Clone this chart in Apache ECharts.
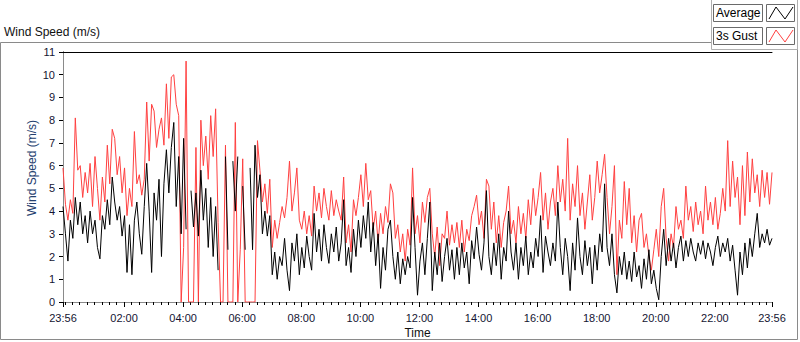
<!DOCTYPE html>
<html>
<head>
<meta charset="utf-8">
<script src="https://cdn.jsdelivr.net/npm/echarts@6/dist/echarts.min.js"></script>
<style>
    html, body { margin: 0; padding: 0; background: #fff; }
    #chart { width: 800px; height: 342px; }
</style>
</head>
<body>
<div id="chart"></div>
<script>
// one sample every 5 minutes, counted from 23:56
const stepMinutes = 5

const gust = [
    5.9, 4.3, 3.6, 4.5, 3.9, 8.1, 5.8, 6.0, 4.6, 5.7,
    4.8, 6.1, 4.2, 6.4, 5.0, 3.6, 5.5, 4.4, 6.9, 5.2,
    7.6, 7.2, 5.6, 6.4, 4.8, 5.9, 3.8, 5.0, 4.2, 7.5,
    5.2, 5.6, 4.7, 5.4, 8.8, 6.2, 8.7, 8.4, 6.8, 7.6,
    8.1, 6.9, 9.6, 7.2, 9.9, 10.0, 8.7, 8.2, 0, 2.4,
    10.6, 0, 0, 0, 6.8, 0, 8.0, 6.0, 7.3, 5.4,
    8.2, 6.4, 8.5, 3.5, 0, 0, 6.9, 0, 0, 0,
    7.9, 0, 2.3, 6.3, 0, 0, 0, 0, 0, 7.1,
    5.8, 4.4, 5.2, 3.9, 5.4, 2.4, 3.6, 2.8, 3.5, 4.2,
    3.7, 4.6, 6.2, 4.0, 4.8, 5.9, 3.6, 3.2, 4.0, 3.0,
    3.8, 2.9, 5.1, 4.0, 4.8, 3.7, 5.0, 4.2, 3.6, 4.9,
    3.8, 4.5, 4.0, 3.6, 5.5, 2.6, 3.4, 2.2, 4.5, 3.8,
    4.6, 5.6, 4.2, 6.1, 4.5, 4.9, 3.2, 4.0, 2.6, 3.9,
    3.0, 4.2, 3.5, 5.2, 4.8, 2.8, 3.4, 2.2, 3.0, 1.8,
    3.2, 2.5, 5.9, 3.0, 3.8, 2.6, 4.4, 3.5, 4.6, 5.0,
    3.0, 2.0, 3.3, 1.6, 3.0, 2.8, 4.0, 2.5, 3.4, 2.6,
    3.5, 2.4, 3.6, 2.2, 3.2, 2.7, 3.8, 4.2, 4.7, 3.4,
    4.0, 2.8, 5.4, 5.1, 3.2, 4.4, 2.6, 3.8, 2.4, 3.5,
    4.0, 5.1, 3.0, 3.6, 2.6, 4.2, 3.0, 3.9, 2.8, 4.5,
    3.4, 5.0, 3.8, 4.6, 5.7, 3.6, 4.8, 3.2, 4.4, 5.0,
    3.8, 6.0, 4.4, 5.4, 4.0, 7.2, 3.6, 5.2, 4.2, 6.0,
    3.8, 4.8, 3.2, 4.4, 5.6, 3.6, 4.6, 6.2, 4.8, 5.6,
    6.5, 4.6, 3.0, 4.2, 6.0, 1.2, 3.6, 2.8, 5.3, 3.4,
    5.0, 2.6, 3.8, 2.2, 3.6, 3.9, 2.4, 3.0, 2.0, 1.4,
    2.3, 3.2, 2.0, 4.2, 5.0, 2.8, 1.8, 3.0, 2.4, 4.2,
    3.2, 3.6, 2.8, 5.1, 3.6, 4.2, 3.1, 4.4, 3.4, 4.0,
    3.0, 5.1, 3.6, 4.4, 3.4, 4.6, 3.2, 3.9, 5.0, 4.0,
    7.1, 4.2, 6.2, 4.6, 5.5, 3.4, 6.0, 3.8, 6.6, 4.4,
    6.3, 4.8, 5.6, 4.2, 5.8, 4.6, 5.7, 4.3, 5.7
]

// null = no reading (gaps while the sensor dropped out)
const average = [
    4.2, 3.0, 1.8, 3.6, 2.8, 4.6, 3.4, 4.4, 3.0, 3.8,
    2.6, 4.0, 3.0, 3.6, 2.4, 1.9, 3.8, 3.2, 4.5, 3.4,
    5.5, 4.4, 3.6, 4.2, 2.9, 3.8, 1.3, 3.4, 1.2, 3.6,
    4.4, 3.0, 2.1, 4.2, 6.1, 4.0, 1.3, 4.8, 3.6, 5.4,
    2.0, 5.2, 6.7, 4.8, 6.8, 7.9, 4.2, 6.4, 3.0, 7.2,
    3.2, null, 4.9, 3.3, 4.8, 2.9, 5.8, 3.6, 5.0, 2.4,
    4.6, 2.0, 4.2, 1.4, null, null, 6.4, 2.3, null, 6.2,
    4.0, 6.4, null, 5.1, 2.3, null, 5.9, 2.3, 6.9, 4.6,
    5.6, 3.0, 4.0, 2.9, 3.8, 1.2, 2.2, 1.0, 2.0, 1.6,
    2.8, 1.4, 0.5, 2.6, 1.8, 3.0, 1.2, 2.4, 1.5, 2.9,
    2.0, 1.4, 3.9, 2.2, 3.2, 1.8, 3.4, 2.4, 1.7, 3.0,
    2.2, 3.3, 1.8, 2.6, 4.5, 1.6, 2.4, 1.3, 3.2, 2.0,
    3.6, 2.4, 3.8, 2.8, 4.4, 2.2, 3.5, 1.6, 3.0, 0.6,
    2.4, 1.4, 3.2, 3.6, 2.0, 1.0, 2.2, 0.8, 1.9, 1.2,
    2.0, 1.5, 4.6, 2.4, 0.3, 1.8, 2.6, 1.2, 2.8, 4.4,
    0.5, 2.2, 1.2, 2.6, 0.9, 2.0, 2.8, 1.4, 2.3, 1.0,
    2.4, 1.2, 2.6, 1.5, 2.2, 0.8, 2.7, 1.9, 3.3, 2.1,
    1.4, 2.6, 4.9, 2.0, 1.2, 2.6, 1.6, 3.0, 1.0, 2.4,
    1.8, 4.0, 2.2, 1.4, 2.6, 1.0, 2.4, 1.6, 2.9, 1.2,
    2.2, 1.5, 2.8, 2.0, 3.8, 1.3, 2.9, 2.2, 1.6, 2.6,
    1.8, 4.4, 2.4, 1.2, 2.8, 2.0, 0.5, 2.6, 1.4, 3.7,
    2.0, 1.2, 2.7, 1.6, 2.4, 0.8, 2.5, 1.4, 3.0, 2.2,
    5.2, 2.4, 1.6, 3.0, 1.2, 0.4, 2.0, 1.2, 2.2, 1.0,
    1.8, 0.9, 2.2, 1.1, 1.6, 0.6, 1.9, 1.0, 2.3, 0.8,
    1.4, 0.6, 0.1, 2.0, 3.2, 1.6, 2.8, 1.8, 2.6, 1.5,
    2.4, 2.9, 1.8, 2.7, 2.0, 2.8, 2.2, 1.8, 2.6, 2.1,
    2.7, 1.9, 2.6, 2.2, 1.6, 2.4, 2.9, 2.0, 2.6, 2.2,
    2.8, 1.8, 2.5, 1.4, 0.3, 2.2, 1.2, 2.6, 1.5, 2.8,
    2.0, 3.0, 3.9, 2.4, 3.0, 2.6, 3.2, 2.5, 2.8
]

const tickMinutes = [0, 124, 244, 364, 484, 604, 724, 844, 964, 1084, 1204, 1324, 1440]
const tickLabels = ['23:56', '02:00', '04:00', '06:00', '08:00', '10:00', '12:00',
    '14:00', '16:00', '18:00', '20:00', '22:00', '23:56']

const font = '"Liberation Sans", Arial, sans-serif'
const frameGray = '#8a8a8a'

// quarter-hour minor ticks, 00:00 is 4 minutes in
const minorTicks = []
for (let m = 4; m < 1440; m += 15) minorTicks.push(m)

const toPoints = (values) => values.map((v, i) => [i * stepMinutes, v])

const chart = echarts.init(document.getElementById('chart'), null, { renderer: 'svg' })

function legendBox(y, label, color) {
    return [
        {
            type: 'rect',
            shape: { x: 713.5, y: y + 0.5, width: 49, height: 17 },
            style: { fill: '#fff', stroke: '#6a6a6a', lineWidth: 1 },
        },
        {
            type: 'text',
            x: 716, y: y + 9,
            style: { text: label, font: '12px ' + font, fill: '#000', verticalAlign: 'middle' },
        },
        {
            type: 'rect',
            shape: { x: 766.5, y: y + 0.5, width: 28, height: 17 },
            style: { fill: '#fff', stroke: '#6a6a6a', lineWidth: 1 },
        },
        {
            type: 'polyline',
            shape: { points: [[769, y + 15], [776, y + 3], [785, y + 15], [793, y + 3]] },
            style: { stroke: color, lineWidth: 1, fill: null },
        },
    ]
}

const option = {
    animation: false,
    backgroundColor: '#fff',
    grid: { left: 63, right: 28, top: 52, bottom: 40, show: false, outerBoundsMode: 'none' },
    graphic: [
        {
            type: 'rect',
            shape: { x: 0.5, y: 42.5, width: 797, height: 297 },
            style: { fill: null, stroke: frameGray, lineWidth: 1 },
        },
        {
            type: 'rect',
            shape: { x: 711.5, y: -1, width: 86, height: 50.5 },
            style: { fill: '#fff', stroke: '#b0b0b0', lineWidth: 1 },
        },
        ...legendBox(4, 'Average', '#000'),
        ...legendBox(27, '3s Gust', '#ff4040'),
        {
            type: 'text',
            x: 4, y: 32,
            style: { text: 'Wind Speed (m/s)', font: '12px ' + font, fill: '#111', verticalAlign: 'middle' },
        },
        {
            type: 'text',
            x: 32, y: 168,
            rotation: Math.PI / 2,
            style: {
                text: 'Wind Speed (m/s)', font: '12px ' + font, fill: '#24406e',
                align: 'center', verticalAlign: 'middle',
            },
        },
    ],
    xAxis: [
        {
            type: 'value',
            min: 0,
            max: 1440,
            position: 'bottom',
            name: 'Time',
            nameLocation: 'middle',
            nameGap: 25,
            nameMoveOverlap: false,
            nameTextStyle: { color: '#111', fontFamily: font, fontSize: 12 },
            axisLine: { lineStyle: { color: '#8a8a8a' } },
            axisTick: { customValues: tickMinutes, length: 5, lineStyle: { color: '#000' } },
            axisLabel: {
                customValues: tickMinutes,
                formatter: (v) => tickLabels[tickMinutes.indexOf(v)] ?? '',
                color: '#141432',
                fontFamily: font,
                fontSize: 11,
                margin: 10,
            },
            splitLine: { show: false },
        },
        {
            type: 'value',
            min: 0,
            max: 1440,
            position: 'bottom',
            axisLine: { show: false },
            axisTick: { customValues: minorTicks, length: 3, lineStyle: { color: '#000' } },
            axisLabel: { show: false },
            splitLine: { show: false },
        },
        {
            type: 'value',
            min: 0,
            max: 1440,
            position: 'top',
            axisLine: { lineStyle: { color: '#000' } },
            axisTick: { show: false },
            axisLabel: { show: false },
            splitLine: { show: false },
        },
    ],
    yAxis: [
        {
            type: 'value',
            min: 0,
            max: 11,
            interval: 1,
            position: 'left',
            axisLine: { show: true, lineStyle: { color: '#000' } },
            axisTick: { show: true, length: 4, lineStyle: { color: '#000' } },
            axisLabel: { color: '#141432', fontFamily: font, fontSize: 11, margin: 8 },
            splitLine: { show: false },
        },
        {
            type: 'value',
            min: 0,
            max: 11,
            position: 'right',
            axisLine: { show: true, lineStyle: { color: '#8a8a8a' } },
            axisTick: { show: false },
            axisLabel: { show: false },
            splitLine: { show: false },
        },
    ],
    series: [
        {
            name: '3s Gust',
            type: 'line',
            data: toPoints(gust),
            showSymbol: false,
            lineStyle: { color: '#ff4040', width: 1 },
            itemStyle: { color: '#ff4040' },
        },
        {
            name: 'Average',
            type: 'line',
            data: toPoints(average),
            showSymbol: false,
            connectNulls: false,
            lineStyle: { color: '#000', width: 1 },
            itemStyle: { color: '#000' },
        },
    ],
}

chart.setOption(option)
</script>
</body>
</html>
